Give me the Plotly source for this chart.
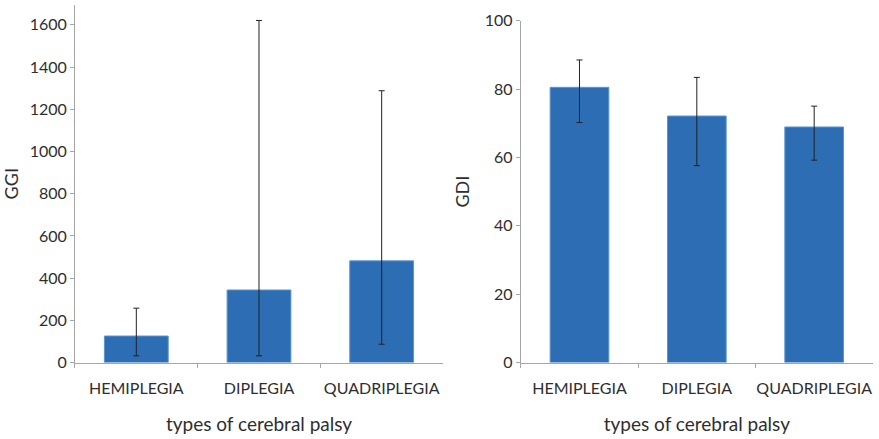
import plotly.graph_objects as go

categories = ["HEMIPLEGIA", "DIPLEGIA", "QUADRIPLEGIA"]

ggi_mean = [126, 344, 482]
ggi_upper = [258, 1621, 1288]
ggi_lower = [32, 32, 87]

gdi_mean = [80.5, 72.1, 68.9]
gdi_upper = [88.5, 83.4, 75.0]
gdi_lower = [70.2, 57.6, 59.2]

ggi_ticks = [0, 200, 400, 600, 800, 1000, 1200, 1400, 1600]
gdi_ticks = [0, 20, 40, 60, 80, 100]

BAR = "#2c6db3"
EDGE = "#5b95d0"
FONT = "Lato"
TXT = "#2e2e2e"
AX = "#a6a6a6"


def err(mean, up, lo):
    return dict(
        type="data", symmetric=False,
        array=[u - m for u, m in zip(up, mean)],
        arrayminus=[m - l for m, l in zip(mean, lo)],
        color="#222222", thickness=1, width=3,
    )


fig = go.Figure()
fig.add_trace(go.Bar(x=categories, y=ggi_mean, width=0.52,
                     marker=dict(color=BAR, line=dict(color=EDGE, width=1)),
                     error_y=err(ggi_mean, ggi_upper, ggi_lower),
                     xaxis="x", yaxis="y", showlegend=False))
fig.add_trace(go.Bar(x=categories, y=gdi_mean, width=0.5,
                     marker=dict(color=BAR, line=dict(color=EDGE, width=1)),
                     error_y=err(gdi_mean, gdi_upper, gdi_lower),
                     xaxis="x2", yaxis="y2", showlegend=False))

common_x = dict(type="category", showline=True, linecolor=AX, linewidth=1,
                ticks="outside", tickson="boundaries", ticklen=4, tickcolor=AX,
                tickfont=dict(family=FONT, size=16, color=TXT), tickangle=0,
                ticklabelstandoff=11,
                title=dict(text="types of cerebral palsy",
                           font=dict(family=FONT, size=19, color=TXT), standoff=21),
                showgrid=False, zeroline=False, automargin=False)
common_y = dict(showline=True, linecolor=AX, linewidth=1, ticks="outside",
                ticklen=4, tickcolor=AX,
                tickfont=dict(family=FONT, size=16, color=TXT),
                showgrid=False, zeroline=False, automargin=False)

fig.update_layout(
    width=879, height=439,
    margin=dict(l=0, r=0, t=0, b=0),
    paper_bgcolor="white", plot_bgcolor="white",
    xaxis=dict(domain=[0.0853, 0.504], anchor="y", **common_x),
    xaxis2=dict(domain=[0.5925, 0.993], anchor="y2", **common_x),
    yaxis=dict(domain=[0.174, 0.989], anchor="x", range=[0, 1695],
               tickvals=ggi_ticks,
               title=dict(text="GGI", font=dict(family=FONT, size=18, color=TXT), standoff=10),
               **common_y),
    yaxis2=dict(domain=[0.174, 0.953], anchor="x2", range=[0, 100],
                tickvals=gdi_ticks,
                title=dict(text="GDI", font=dict(family=FONT, size=18, color=TXT), standoff=10),
                **common_y),
)

fig.write_html("out.html")
